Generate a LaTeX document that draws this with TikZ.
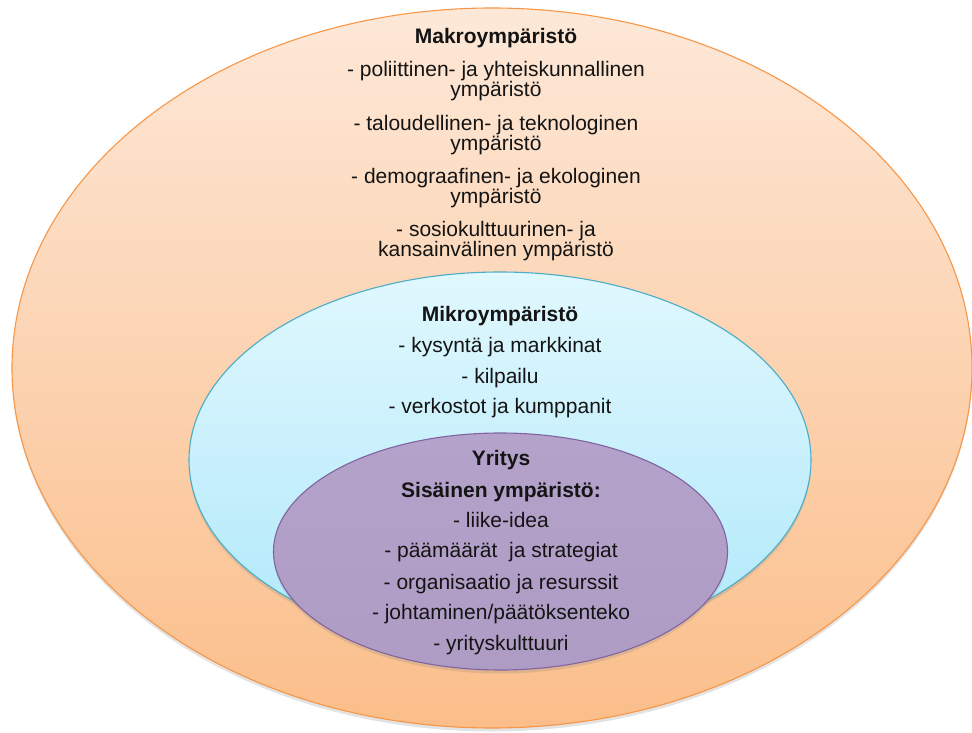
\documentclass[tikz,border=0pt]{standalone}
\usepackage{fontspec}
\setmainfont{Liberation Sans}
\usetikzlibrary{shapes.geometric,shadows}
\definecolor{orBorder}{RGB}{247,150,70}
\definecolor{orTop}{RGB}{253,232,216}
\definecolor{orBot}{RGB}{251,190,138}
\definecolor{cyBorder}{RGB}{75,172,198}
\definecolor{cyTop}{RGB}{224,248,254}
\definecolor{cyBot}{RGB}{176,232,250}
\definecolor{puBorder}{RGB}{128,100,162}
\definecolor{puTop}{RGB}{180,162,202}
\definecolor{puBot}{RGB}{174,156,196}
\definecolor{txt}{RGB}{20,20,20}
\begin{document}
\begin{tikzpicture}[x=1pt,y=-1pt,
  ring/.style={ellipse, inner sep=0pt, line width=1.1pt,
    drop shadow={shadow xshift=0pt, shadow yshift=-3.5pt, opacity=0.22}},
  lbl/.style={anchor=base, inner sep=0pt, text=txt, font=\fontsize{21}{20}\selectfont},
  ttl/.style={lbl, font=\fontsize{21}{20}\selectfont\bfseries}]
\useasboundingbox (0,0) rectangle (972,733);
\node[ring, draw=orBorder, top color=orTop, bottom color=orBot,
  minimum width=960pt, minimum height=720pt] (makro) at (492,368) {};
\node[ring, draw=cyBorder, top color=cyTop, bottom color=cyBot,
  minimum width=622pt, minimum height=376pt] (mikro) at (500,460) {};
\node[ring, draw=puBorder, top color=puTop, bottom color=puBot,
  minimum width=454pt, minimum height=237pt] (yritys) at (500.5,551.5) {};
% Makro texts
\node[ttl] (t0) at (496,44) {Makroympäristö};
\node[lbl] (t1) at (496,77) {- poliittinen- ja yhteiskunnallinen};
\node[lbl] (t2) at (496,97) {ympäristö};
\node[lbl] (t3) at (496,131) {- taloudellinen- ja teknologinen};
\node[lbl] (t4) at (496,150) {ympäristö};
\node[lbl] (t5) at (496,183) {- demograafinen- ja ekologinen};
\node[lbl] (t6) at (496,203) {ympäristö};
\node[lbl] (t7) at (496,236) {- sosiokulttuurinen- ja};
\node[lbl] (t8) at (496,256) {kansainvälinen ympäristö};
% Mikro texts
\node[ttl] (m0) at (500,321) {Mikroympäristö};
\node[lbl] (m1) at (500,352) {- kysyntä ja markkinat};
\node[lbl] (m2) at (500,383) {- kilpailu};
\node[lbl] (m3) at (500,413) {- verkostot ja kumppanit};
% Yritys texts
\node[ttl] (y0) at (501,465) {Yritys};
\node[ttl] (y1) at (501,497) {Sisäinen ympäristö:};
\node[lbl] (y2) at (501,527) {- liike-idea};
\node[lbl] (y3) at (501,557) {- päämäärät \ ja strategiat};
\node[lbl] (y4) at (501,589) {- organisaatio ja resurssit};
\node[lbl] (y5) at (501,619) {- johtaminen/päätöksenteko};
\node[lbl] (y6) at (501,650) {- yrityskulttuuri};
\end{tikzpicture}
\end{document}
